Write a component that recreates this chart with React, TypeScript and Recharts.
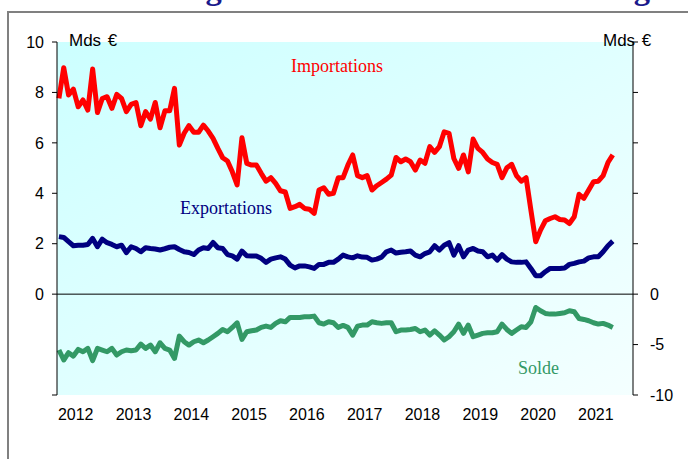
import { ComposedChart, Customized, Line, ReferenceLine, XAxis, YAxis } from "recharts"

// monthly values, Jan 2012 -> Aug 2021, Mds €
const years = [2012, 2013, 2014, 2015, 2016, 2017, 2018, 2019, 2020, 2021]

const importations = [
  7.76, 8.98, 7.9, 8.13, 7.43, 7.7, 7.3, 8.93, 7.2, 7.76, 7.83, 7.37,
  7.92, 7.76, 7.24, 7.53, 7.6, 6.68, 7.24, 6.94, 7.6, 6.6, 7.27, 7.27,
  8.16, 5.91, 6.38, 6.68, 6.42, 6.42, 6.7, 6.47, 6.18, 5.78, 5.41, 5.28,
  4.85, 4.33, 6.2, 5.19, 5.12, 5.12, 4.79, 4.48, 4.62, 4.39, 4.1, 4.05,
  3.4, 3.47, 3.56, 3.4, 3.37, 3.2, 4.13, 4.22, 3.96, 4.0, 4.62, 4.62,
  5.12, 5.52, 4.7, 4.62, 4.7, 4.13, 4.3, 4.43, 4.56, 4.72, 5.42, 5.25,
  5.36, 5.25, 4.92, 5.32, 5.19, 5.85, 5.62, 5.85, 6.44, 6.38, 5.38, 4.99,
  5.52, 4.85, 6.15, 5.78, 5.62, 5.36, 5.22, 5.15, 4.62, 5.01, 5.15, 4.7,
  4.48, 4.62, 3.33, 2.08, 2.54, 2.91, 3.0, 3.07, 2.96, 2.94, 2.8, 3.07,
  3.96, 3.8, 4.13, 4.46, 4.48, 4.7, 5.22, 5.52,
]

const exportations = [
  2.28, 2.25, 2.08, 1.92, 1.94, 1.94, 1.97, 2.21, 1.88, 2.18, 2.04, 1.97,
  1.88, 1.94, 1.65, 1.88, 1.81, 1.68, 1.84, 1.81, 1.79, 1.75, 1.8, 1.86,
  1.88, 1.77, 1.68, 1.65, 1.57, 1.75, 1.84, 1.81, 2.05, 1.84, 1.81, 1.57,
  1.52, 1.39, 1.71, 1.52, 1.51, 1.51, 1.42, 1.26, 1.39, 1.44, 1.48, 1.39,
  1.15, 1.04, 1.12, 1.12, 1.08, 1.02, 1.18, 1.18, 1.26, 1.26, 1.39, 1.55,
  1.48, 1.44, 1.52, 1.47, 1.46, 1.35, 1.39, 1.47, 1.68, 1.75, 1.63, 1.66,
  1.68, 1.71, 1.55, 1.48, 1.61, 1.68, 1.92, 1.75, 1.94, 2.04, 1.55, 1.92,
  1.48, 1.75, 1.81, 1.71, 1.68, 1.48, 1.55, 1.35, 1.57, 1.39, 1.28, 1.26,
  1.26, 1.28, 1.02, 0.73, 0.73, 0.89, 1.02, 1.02, 1.02, 1.04, 1.18, 1.22,
  1.28, 1.31, 1.44, 1.48, 1.48, 1.68, 1.92, 2.1,
]

const solde = [
  -5.54, -6.53, -5.81, -6.14, -5.48, -5.71, -5.38, -6.6, -5.38, -5.54, -5.71, -5.38,
  -6.04, -5.71, -5.54, -5.61, -5.54, -4.95, -5.38, -5.05, -5.71, -4.82, -5.38, -5.54,
  -6.37, -4.16, -4.72, -5.05, -4.72, -4.55, -4.82, -4.55, -4.22, -3.89, -3.5, -3.73,
  -3.3, -2.84, -4.49, -3.73, -3.63, -3.56, -3.3, -3.17, -3.3, -2.9, -2.64, -2.74,
  -2.31, -2.31, -2.31, -2.24, -2.24, -2.18, -2.84, -2.97, -2.74, -2.84, -3.3, -3.1,
  -3.3, -4.06, -3.17, -3.07, -3.07, -2.74, -2.84, -2.9, -2.84, -2.84, -3.73, -3.56,
  -3.56, -3.5, -3.4, -3.73, -3.56, -4.06, -3.63, -4.06, -4.55, -4.22, -3.73, -2.97,
  -3.89, -3.07, -4.22, -4.06, -3.89, -3.83, -3.83, -3.73, -2.97, -3.5, -3.89, -3.56,
  -3.23, -3.3, -2.74, -1.32, -1.65, -1.91, -1.98, -1.98, -1.91, -1.85, -1.65, -1.75,
  -2.41, -2.51, -2.64, -2.84, -2.97, -2.9, -3.07, -3.3,
]

const leftTicks = [-4, 0, 2, 4, 6, 8, 10]
const rightTicks = [-10, -5, 0, 5, 10, 15, 20, 25]

const data = importations.map((v, i) => ({
  m: i,
  importations: v,
  exportations: exportations[i],
  solde: solde[i],
}))

const sans = "'Liberation Sans', Arial, sans-serif"
const serif = "'Liberation Serif', 'Times New Roman', serif"

function YearTick(props: any) {
  const { x, y, payload } = props
  return (
    <text x={x - 1} y={y + 6} dy="0.71em" textAnchor="start" fontSize={16} fontFamily={sans} fill="#000">
      {years[0] + payload.value / 12}
    </text>
  )
}

// title is cut by the top edge in the original, only the descenders show
function Notes() {
  return (
    <g>
      <text x={117} y={-1} fontFamily={serif} fontWeight="bold" fontSize={32.5} fill="#1a1a8c">
        Échanges : un déficit en recul en Hongrie
      </text>
      <text x={69} y={46} fontFamily={sans} fontSize={17} wordSpacing={2} fill="#000">Mds €</text>
      <text x={603} y={46} fontFamily={sans} fontSize={17} wordSpacing={2} fill="#000">Mds €</text>
      <text x={291} y={72} fontFamily={serif} fontSize={18} fill="#ff0000">Importations</text>
      <text x={180} y={214} fontFamily={serif} fontSize={18} fill="#000080">Exportations</text>
      <text x={518} y={374} fontFamily={serif} fontSize={18} fill="#339966">Solde</text>
    </g>
  )
}

export default function App() {
  return (
    <div style={{ position: "absolute", left: 0, top: 0, width: 688, height: 459, overflow: "hidden", background: "#fff" }}>
      <div
        style={{
          position: "absolute",
          left: 7,
          top: 11,
          width: 720,
          height: 500,
          borderLeft: "2px solid #808080",
          borderTop: "2px solid #808080",
        }}
      />
      <div
        style={{
          position: "absolute",
          left: 57,
          top: 42,
          width: 576,
          height: 353,
          background: "linear-gradient(to bottom right, #ccffff, #f4ffff)",
        }}
      />
      <div style={{ position: "absolute", left: 0, top: 0 }}>
        <ComposedChart width={688} height={459} data={data} margin={{ top: 42, right: 8, bottom: 30, left: 8 }}>
          <XAxis
            dataKey="m"
            type="number"
            domain={[-0.4, 119.2]}
            ticks={years.map((y) => (y - years[0]) * 12)}
            interval={0}
            axisLine={false}
            tickLine={false}
            tick={<YearTick />}
            height={34}
          />
          <YAxis
            yAxisId="left"
            domain={[-4, 10]}
            ticks={leftTicks}
            interval={0}
            width={49}
            tickSize={5}
            tickMargin={8}
            tickFormatter={(v: number) => (v < 0 ? "" : String(v))}
            axisLine={{ stroke: "#000" }}
            tickLine={{ stroke: "#000" }}
            tick={{ fill: "#000", fontSize: 16, fontFamily: sans }}
          />
          <YAxis
            yAxisId="right"
            orientation="right"
            domain={[-10, 25]}
            ticks={rightTicks}
            interval={0}
            width={47}
            tickSize={5}
            tickMargin={12}
            tickFormatter={(v: number) => (v > 0 ? "" : String(v))}
            axisLine={{ stroke: "#000" }}
            tickLine={{ stroke: "#000" }}
            tick={{ fill: "#000", fontSize: 16, fontFamily: sans, textAnchor: "start" }}
          />
          <ReferenceLine yAxisId="left" y={0} stroke="#000" strokeWidth={1} />
          <Line
            yAxisId="left"
            dataKey="importations"
            type="linear"
            stroke="#ff0000"
            strokeWidth={5}
            dot={false}
            strokeLinejoin="round"
            isAnimationActive={false}
          />
          <Line
            yAxisId="left"
            dataKey="exportations"
            type="linear"
            stroke="#000080"
            strokeWidth={5}
            dot={false}
            strokeLinejoin="round"
            isAnimationActive={false}
          />
          <Line
            yAxisId="right"
            dataKey="solde"
            type="linear"
            stroke="#339966"
            strokeWidth={5}
            dot={false}
            strokeLinejoin="round"
            isAnimationActive={false}
          />
          <Customized component={Notes} />
        </ComposedChart>
      </div>
    </div>
  )
}
